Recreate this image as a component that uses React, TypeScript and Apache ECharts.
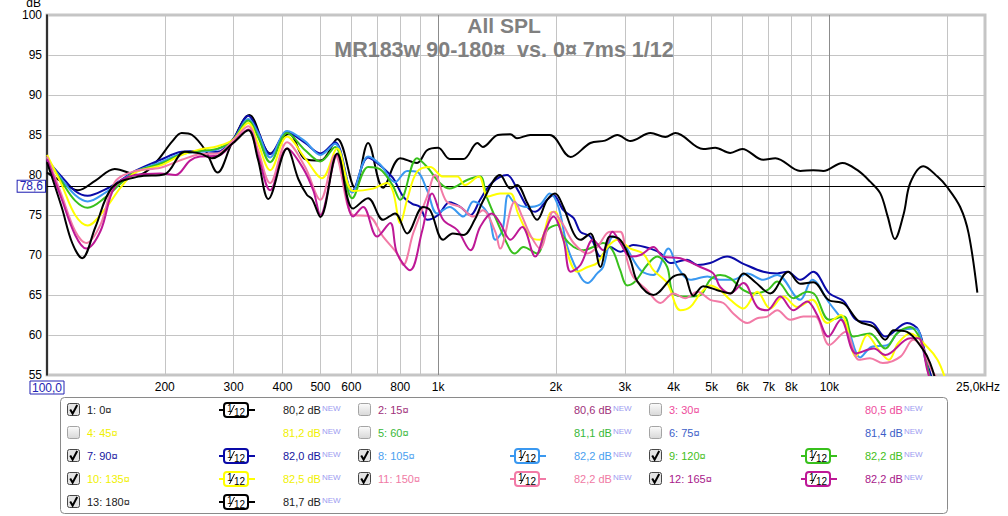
import React, { useEffect, useRef } from 'react';
import * as echarts from 'echarts';

const FONT = '"Liberation Sans", Arial, Helvetica, sans-serif';

// ---- axes ----
const freqMin = 100;
const freqMax = 25000;
const dbMin = 55;
const dbMax = 100;
const dbStep = 5;
const gridFreqs = [100, 200, 300, 400, 500, 600, 700, 800, 900, 1000, 2000, 3000, 4000, 5000, 6000, 7000, 8000, 9000, 10000, 20000, 25000];
const majorFreqs = [1000, 10000];
const labelFreqs = [100, 200, 300, 400, 500, 600, 800, 1000, 2000, 3000, 4000, 5000, 6000, 7000, 8000, 10000, 25000];
const labelTexts = ['100,0', '200', '300', '400', '500', '600', '800', '1k', '2k', '3k', '4k', '5k', '6k', '7k', '8k', '10k', '25,0kHz'];
const refLevel = 78.6;
const refLabel = '78,6';

const titleText = 'All SPL';
const subtitleText = 'MR183w 90-180¤  vs. 0¤ 7ms 1/12';

// ---- curves: [Hz, dB] ----
const curve0: [number, number][] = [[100,80.3],[108,79.3],[120,78.1],[133,79.3],[149,80.75],[171,80.0],[189,81.5],[209,84.2],[221,85.25],[235,85.0],[254,83.1],[273,80.3],[297,84.0],[329,87.5],[372,82.7],[416,85.2],[457,82.0],[500,81.8],[552,84.5],[613,78.4],[662,84.0],[723,78.4],[800,82.1],[883,81.5],[937,83.1],[1000,83.4],[1070,82.0],[1160,82.0],[1260,84.0],[1300,83.5],[1420,85.0],[1530,85.1],[1590,84.6],[1720,85.0],[1930,85.0],[2180,82.25],[2450,84.0],[2670,84.3],[2870,85.0],[3100,84.25],[3490,85.25],[3810,84.75],[4040,85.25],[4760,83.25],[5110,83.4],[5580,82.75],[5990,83.25],[6780,81.9],[7280,82.1],[8430,80.5],[9100,80.6],[9650,80.5],[10800,81.5],[11800,80.6],[12700,79.2],[13500,77.7],[14100,74.8],[14700,72.0],[15500,75.2],[16100,79.0],[17400,81.1],[18900,79.8],[20000,78.5],[21600,76.0],[22700,72.7],[23900,65.3]];

const curve90: [number, number][] = [[100,81.9],[109,79.8],[118,78.0],[127,77.4],[141,78.2],[154,79.3],[168,80.5],[195,81.9],[221,82.9],[246,83.0],[273,82.9],[299,84.5],[327,87.4],[346,85.5],[372,82.6],[411,85.3],[457,84.0],[500,82.7],[545,84.1],[603,78.0],[662,82.2],[711,81.2],[767,79.6],[814,77.3],[858,76.4],[899,76.0],[937,74.4],[1000,75.0],[1070,76.6],[1140,76.0],[1210,75.0],[1280,76.9],[1370,79.0],[1500,80.0],[1590,78.3],[1690,76.0],[1770,75.4],[1900,76.9],[1970,77.5],[2090,75.6],[2220,74.6],[2310,72.9],[2450,72.3],[2600,69.8],[2750,71.0],[2920,70.4],[3150,71.25],[3490,70.8],[3700,70.2],[3920,69.0],[4330,69.4],[4600,68.75],[4960,69.0],[5480,69.8],[6030,68.9],[6780,67.9],[7360,67.7],[7810,67.9],[8430,66.9],[9100,67.9],[10000,65.2],[10900,64.2],[11700,61.9],[12900,61.5],[13900,59.8],[15800,61.5],[16900,60.6],[17800,56.5],[18700,53.0]];

const curve105: [number, number][] = [[100,82.1],[109,79.5],[118,77.5],[127,76.7],[141,77.8],[154,79.2],[168,80.4],[195,81.6],[221,82.7],[246,82.9],[273,83.2],[299,84.4],[327,87.0],[346,85.3],[372,82.2],[411,85.5],[457,84.2],[500,82.5],[545,83.9],[603,77.8],[662,82.3],[711,81.3],[776,79.1],[833,80.5],[883,80.4],[937,78.1],[994,75.2],[1070,76.0],[1160,74.8],[1230,76.7],[1340,75.2],[1400,71.9],[1460,73.1],[1510,77.5],[1570,76.5],[1690,76.0],[1820,76.3],[1930,77.7],[2030,76.0],[2140,71.0],[2310,67.3],[2410,66.5],[2550,67.7],[2640,68.5],[2800,72.3],[2970,71.5],[3290,68.1],[3550,67.5],[3880,70.8],[4090,68.5],[4410,66.9],[4880,67.3],[5260,66.9],[5680,66.9],[6170,67.7],[6780,66.9],[7360,67.5],[8430,64.4],[9040,66.9],[10000,64.0],[11100,61.0],[12000,57.2],[12800,58.5],[14100,58.75],[15200,60.6],[16600,60.8],[17600,56.9],[18300,53.5]];

const curve120: [number, number][] = [[100,82.2],[109,79.2],[118,76.8],[127,75.9],[141,77.2],[154,78.9],[168,80.4],[195,81.4],[221,82.6],[246,83.0],[273,83.3],[299,84.4],[327,86.8],[346,84.8],[372,81.6],[411,85.25],[457,83.1],[500,81.7],[545,83.5],[603,77.1],[662,81.0],[711,80.7],[763,78.8],[800,76.9],[883,82.1],[937,81.0],[1010,79.0],[1070,78.3],[1190,79.4],[1280,79.8],[1330,77.3],[1420,74.0],[1530,70.6],[1570,70.2],[1650,71.0],[1790,70.2],[1900,73.1],[2020,73.75],[2090,72.3],[2220,71.0],[2350,70.6],[2490,71.0],[2640,71.5],[2790,70.6],[2920,68.1],[3040,66.2],[3190,66.7],[3420,68.75],[3630,69.8],[3850,68.5],[3990,65.2],[4330,64.8],[4680,65.0],[4960,66.9],[5260,67.5],[5580,67.1],[6030,65.6],[6390,65.2],[6940,65.6],[7360,66.7],[8090,64.6],[8780,65.4],[9200,65.0],[10000,61.9],[10900,62.3],[11500,59.8],[12700,60.2],[13900,58.3],[14900,60.2],[16100,61.0],[17100,59.4],[17700,56.5],[18300,53.5]];

const curve135: [number, number][] = [[100,82.5],[109,78.8],[118,75.0],[127,73.7],[141,75.8],[154,78.4],[168,80.3],[195,81.2],[221,82.5],[246,83.2],[273,83.6],[299,84.4],[327,86.5],[346,84.0],[372,80.6],[411,84.8],[457,82.1],[505,79.6],[552,83.3],[606,78.0],[682,78.3],[740,79.0],[767,77.9],[800,74.0],[833,76.9],[883,80.4],[954,81.0],[1030,79.8],[1120,79.8],[1170,78.75],[1270,79.8],[1340,77.3],[1440,77.7],[1530,77.7],[1600,75.2],[1720,72.3],[1820,71.9],[1930,75.2],[1990,75.4],[2090,71.9],[2270,67.9],[2410,68.5],[2550,69.0],[2710,71.0],[2870,71.9],[3100,70.8],[3340,70.2],[3550,68.1],[3850,66.5],[4160,63.1],[4410,63.5],[4680,65.2],[4960,66.2],[5260,65.6],[5580,64.4],[6030,63.3],[6540,65.4],[7060,63.3],[7630,64.8],[8280,63.5],[9040,64.4],[9880,61.5],[10700,62.5],[11700,57.3],[12500,60.0],[13300,58.3],[14200,56.9],[15000,59.0],[16100,60.2],[17800,58.5],[18900,56.9],[19800,54.5]];

const curve150: [number, number][] = [[100,82.3],[109,77.5],[118,73.0],[126,71.5],[137,73.8],[149,79.1],[168,80.5],[195,80.9],[221,81.9],[246,82.6],[273,82.7],[299,84.3],[327,86.1],[346,83.2],[372,79.0],[411,84.1],[457,81.0],[500,76.9],[545,82.5],[606,75.0],[662,74.9],[723,72.3],[785,70.2],[814,68.75],[863,72.7],[937,77.3],[982,80.0],[1050,76.7],[1140,76.0],[1230,74.8],[1300,75.6],[1400,72.9],[1440,70.8],[1570,76.7],[1640,74.8],[1720,72.5],[1820,70.8],[1970,75.4],[2080,73.9],[2220,71.5],[2410,70.2],[2550,71.0],[2750,72.9],[2920,72.9],[3040,69.4],[3150,67.3],[3420,65.6],[3700,64.0],[3990,65.2],[4280,64.6],[4600,65.4],[4960,64.4],[5360,64.0],[5680,62.7],[6170,61.5],[6540,62.1],[6940,62.3],[7360,63.1],[7950,61.9],[8580,62.3],[9200,62.3],[10000,58.75],[11000,60.4],[11900,56.9],[12700,57.1],[13700,56.5],[15200,57.3],[16400,59.4],[17300,58.5],[18100,56.0],[18900,54.5]];

const curve165: [number, number][] = [[100,82.0],[109,77.0],[118,72.5],[126,70.8],[137,73.0],[149,78.5],[168,80.0],[195,80.2],[213,80.0],[232,81.8],[246,82.3],[273,82.4],[299,84.0],[327,85.7],[346,82.5],[372,78.1],[411,83.3],[452,80.8],[480,78.0],[500,75.0],[552,82.5],[606,74.8],[643,76.0],[698,72.3],[754,74.0],[785,70.2],[848,68.1],[910,73.0],[965,77.7],[1030,74.4],[1120,73.1],[1210,70.6],[1280,73.5],[1370,75.2],[1440,74.0],[1530,71.9],[1640,73.5],[1770,69.8],[1880,73.1],[1970,74.8],[2090,71.9],[2180,67.9],[2310,68.75],[2490,71.9],[2640,70.6],[2790,72.9],[2920,71.5],[3100,69.8],[3290,70.0],[3550,71.0],[3760,69.8],[4160,69.6],[4680,68.5],[5050,67.7],[5260,66.0],[5580,65.2],[6030,66.5],[6540,63.5],[6940,63.1],[7490,64.8],[8090,63.1],[8780,64.2],[9310,62.5],[9940,59.8],[10700,61.9],[11700,57.7],[13000,58.3],[13900,57.5],[16100,59.6],[16900,59.6],[17800,55.6],[18300,53.5]];

const curve180: [number, number][] = [[100,81.6],[109,76.0],[116,71.5],[123,69.6],[133,73.5],[147,78.5],[171,79.8],[200,80.1],[225,82.9],[246,82.7],[264,82.1],[299,84.0],[327,85.6],[346,82.0],[368,77.0],[411,83.3],[439,79.5],[462,77.5],[476,77.0],[500,74.75],[552,82.7],[606,75.8],[662,77.1],[723,74.4],[776,75.2],[833,72.7],[915,76.0],[954,75.6],[1030,71.9],[1090,72.7],[1160,72.5],[1240,74.4],[1300,76.7],[1440,80.0],[1530,78.3],[1590,78.75],[1690,76.5],[1790,74.4],[1900,76.9],[1990,77.7],[2090,76.0],[2220,72.7],[2310,71.9],[2450,72.7],[2600,68.5],[2750,72.3],[2920,71.9],[3100,69.4],[3230,66.7],[3550,65.0],[3990,67.3],[4230,67.6],[4490,64.9],[4760,66.1],[5170,65.6],[5580,65.2],[6030,67.7],[6470,66.6],[7060,65.2],[7850,67.9],[8430,66.4],[9100,66.6],[9940,64.4],[10900,63.9],[11900,61.7],[13000,61.0],[13900,59.4],[14600,60.6],[15800,60.4],[17400,58.1],[18100,56.5],[18900,53.5]];

// ---- legend ----
const legendNames = ['1: 0¤', '2: 15¤', '3: 30¤', '4: 45¤', '5: 60¤', '6: 75¤', '7: 90¤', '8: 105¤', '9: 120¤', '10: 135¤', '11: 150¤', '12: 165¤', '13: 180¤'];
const legendLevels = ['80,2 dB', '80,6 dB', '80,5 dB', '81,2 dB', '81,1 dB', '81,4 dB', '82,0 dB', '82,2 dB', '82,2 dB', '82,5 dB', '82,2 dB', '82,2 dB', '81,7 dB'];
const legendChecked = [true, false, false, false, false, false, true, true, true, true, true, true, true];
const legendTextColors = ['#1a1a1a', '#a0307a', '#ee4c9c', '#f0f000', '#38b838', '#3c5ec8', '#1414a0', '#4aa0f0', '#44c020', '#f0f000', '#f07aa4', '#a8188a', '#1a1a1a'];
const lineColors = ['#000000', '#a0307a', '#ee4c9c', '#f0f000', '#38b838', '#3c5ec8', '#0a0aa8', '#3a98f0', '#38c01c', '#ffff00', '#f27aa6', '#be1896', '#000000'];
const newTag = 'NEW';
const fractionTop = '1';
const fractionBottom = '12';

// which legend entry each plotted curve belongs to (draw order)
const plotted: { entry: number; data: [number, number][] }[] = [
  { entry: 0, data: curve0 },
  { entry: 6, data: curve90 },
  { entry: 7, data: curve105 },
  { entry: 8, data: curve120 },
  { entry: 9, data: curve135 },
  { entry: 10, data: curve150 },
  { entry: 11, data: curve165 },
  { entry: 12, data: curve180 },
];

function buildLegend(): any[] {
  const els: any[] = [];
  els.push({
    type: 'rect',
    shape: { x: 60.5, y: 397.5, width: 887, height: 116, r: 4 },
    style: { fill: '#ffffff', stroke: '#8a8a8a', lineWidth: 1 },
  });
  legendNames.forEach((name, i) => {
    const row = Math.floor(i / 3);
    const col = i % 3;
    const cx = 67 + col * 291;
    const cy = 410 + row * 23;
    const checked = legendChecked[i];
    els.push({
      type: 'rect',
      shape: { x: cx + 0.5, y: cy - 6.5, width: 12, height: 12, r: 2 },
      style: checked
        ? { fill: '#e4e4e4', stroke: '#474747', lineWidth: 1 }
        : {
            fill: new echarts.graphic.LinearGradient(0, 0, 0, 1, [
              { offset: 0, color: '#fbfbfb' },
              { offset: 1, color: '#d8d8d8' },
            ]),
            stroke: '#a4a4a4',
            lineWidth: 1,
          },
    });
    if (checked) {
      els.push({
        type: 'polyline',
        shape: { points: [[cx + 3.2, cy - 0.5], [cx + 5.6, cy + 3.6], [cx + 10.2, cy - 5]] },
        style: { stroke: '#000', lineWidth: 2, fill: null },
      });
    }
    els.push({
      type: 'text',
      x: cx + 20,
      y: cy,
      style: { text: name, fill: legendTextColors[i], fontSize: 11, fontFamily: FONT, verticalAlign: 'middle', align: 'left' },
    });
    if (checked) {
      const ix = cx + 157;
      const c = lineColors[i];
      els.push({ type: 'line', shape: { x1: ix - 5, y1: cy, x2: ix, y2: cy }, style: { stroke: c, lineWidth: 2 } });
      els.push({ type: 'line', shape: { x1: ix + 24, y1: cy, x2: ix + 31, y2: cy }, style: { stroke: c, lineWidth: 2 } });
      els.push({
        type: 'rect',
        shape: { x: ix, y: cy - 7, width: 24, height: 14, r: 3 },
        style: { fill: '#fff', stroke: c, lineWidth: 2 },
      });
      els.push({
        type: 'text', x: ix + 3, y: cy - 6.5,
        style: { text: fractionTop, fill: '#000', fontSize: 10, fontFamily: FONT, verticalAlign: 'top', align: 'left' },
      });
      els.push({ type: 'line', shape: { x1: ix + 5.5, y1: cy + 5, x2: ix + 10.5, y2: cy - 5 }, style: { stroke: '#000', lineWidth: 1 } });
      els.push({
        type: 'text', x: ix + 10, y: cy - 3,
        style: { text: fractionBottom, fill: '#000', fontSize: 10, fontFamily: FONT, verticalAlign: 'top', align: 'left' },
      });
    }
    els.push({
      type: 'text',
      x: cx + 216,
      y: cy,
      style: {
        text: `{v|${legendLevels[i]}}{n|${newTag}}`,
        verticalAlign: 'middle',
        align: 'left',
        rich: {
          v: { fill: legendTextColors[i], fontSize: 11, fontFamily: FONT },
          n: { fill: '#9c9cf0', fontSize: 8, fontFamily: FONT, verticalAlign: 'top', padding: [0, 0, 0, 1] },
        },
      },
    });
  });
  return els;
}

export default function App() {
  const ref = useRef<HTMLDivElement>(null);
  useEffect(() => {
    if (!ref.current) return;
    const chart = echarts.init(ref.current, undefined, { renderer: 'svg' });
    const lx = (f: number) => Math.log10(f);
    const xMin = lx(freqMin);
    const xMax = lx(freqMax);

    const series: any[] = plotted.map((p, k) => ({
      type: 'line',
      name: legendNames[p.entry],
      data: p.data.map(([f, d]) => [lx(f), d]),
      showSymbol: false,
      smooth: 0.35,
      clip: true,
      silent: true,
      z: 3 + k,
      lineStyle: { color: lineColors[p.entry], width: 2 },
      itemStyle: { color: lineColors[p.entry] },
      emphasis: { disabled: true },
      ...(k === 0
        ? {
            markLine: {
              silent: true,
              symbol: ['none', 'none'],
              animation: false,
              lineStyle: { color: '#000', width: 1, type: 'solid' },
              emphasis: { disabled: true },
              label: {
                show: true,
                position: 'start',
                formatter: refLabel,
                color: '#2424b4',
                fontSize: 12,
                lineHeight: 11,
                fontFamily: FONT,
                borderColor: '#2424b4',
                borderWidth: 1,
                padding: [0, 2, 0, 2],
                backgroundColor: '#fff',
                distance: 2,
              },
              data: [{ yAxis: refLevel }],
            },
          }
        : {}),
    }));

    chart.setOption({
      animation: false,
      backgroundColor: '#ffffff',
      title: [
        {
          text: titleText, left: 'center', top: 15, padding: 0,
          textStyle: { color: '#808080', fontSize: 21, fontWeight: 'bold', fontFamily: FONT },
        },
        {
          text: subtitleText, left: 'center', top: 39, padding: 0,
          textStyle: { color: '#808080', fontSize: 21.5, fontWeight: 'bold', fontFamily: FONT },
        },
      ],
      grid: {
        left: 47, right: 23, top: 15, bottom: 141,
        show: true, borderColor: '#c6c6c6', borderWidth: 3,
        containLabel: false, outerBoundsMode: 'none',
      },
      xAxis: [
        {
          type: 'value', min: xMin, max: xMax,
          axisLine: { show: false },
          axisTick: { show: false, customValues: gridFreqs.map(lx) },
          splitLine: { show: true, lineStyle: { color: '#c4c4c4', width: 1 } },
          axisLabel: {
            customValues: labelFreqs.map(lx),
            margin: 6,
            color: '#000',
            fontSize: 12,
            fontFamily: FONT,
            formatter: (v: number) => {
              const i = labelFreqs.findIndex((f) => Math.abs(lx(f) - v) < 1e-6);
              if (i < 0) return '';
              if (i === 0) return `{box|${labelTexts[i]}}`;
              if (i === labelTexts.length - 1) return `{end|${labelTexts[i]}}`;
              return labelTexts[i];
            },
            rich: {
              box: { color: '#2424b4', fontSize: 12, fontFamily: FONT, borderColor: '#2424b4', borderWidth: 1, padding: [1, 2, 0, 2] },
              end: { color: '#000', fontSize: 12, fontFamily: FONT, padding: [0, 14, 0, 0] },
            },
          },
        },
        {
          type: 'value', min: xMin, max: xMax, gridIndex: 0, position: 'bottom',
          axisLine: { show: false },
          axisLabel: { show: false },
          axisTick: { show: false, customValues: majorFreqs.map(lx) },
          splitLine: { show: true, lineStyle: { color: '#8c8c8c', width: 1 } },
        },
      ],
      yAxis: {
        type: 'value', min: dbMin, max: dbMax, interval: dbStep,
        name: 'dB', nameLocation: 'end', nameGap: 5,
        nameTextStyle: { color: '#000', fontSize: 12, lineHeight: 10, fontFamily: FONT, align: 'right', verticalAlign: 'bottom', padding: [0, 6, 0, 0] },
        axisLine: { show: true, lineStyle: { color: '#000', width: 1.5 } },
        axisTick: { show: false },
        axisLabel: { color: '#000', fontSize: 12, lineHeight: 11, fontFamily: FONT, margin: 5 },
        splitLine: { show: true, lineStyle: { color: '#c4c4c4', width: 1 } },
      },
      series,
      graphic: { elements: buildLegend() },
    });
    return () => chart.dispose();
  }, []);
  return <div ref={ref} style={{ position: 'absolute', left: 0, top: 0, width: 1008, height: 516 }} />;
}
